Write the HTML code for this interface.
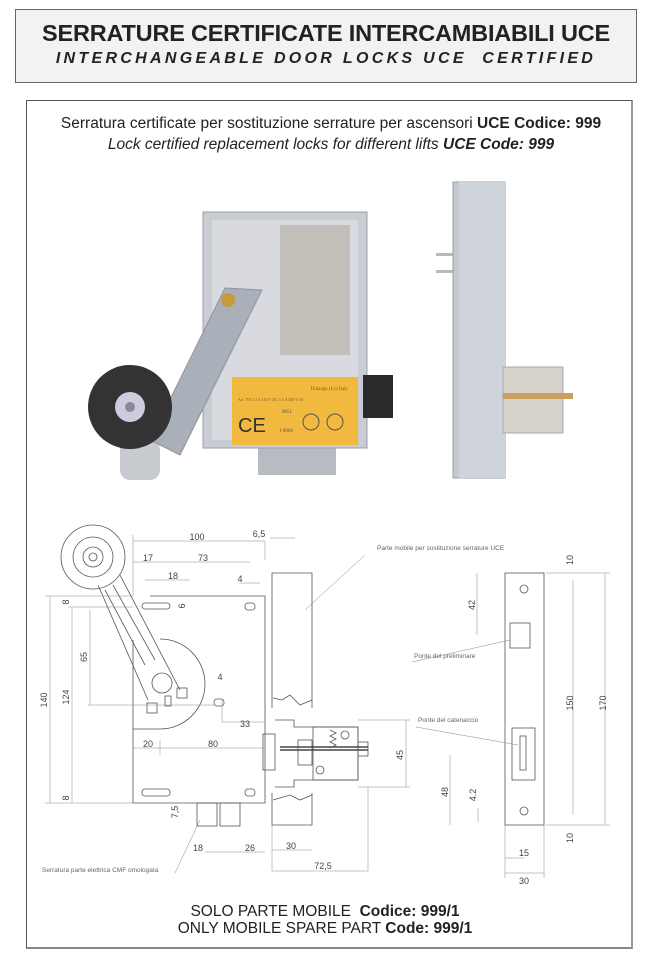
<!DOCTYPE html>
<html><head><meta charset="utf-8"><style>
html,body{margin:0;padding:0;background:#fff;}
body{width:646px;height:954px;position:relative;overflow:hidden;font-family:"Liberation Sans",Arial,sans-serif;}
.hdr{position:absolute;left:15px;top:9px;width:620px;height:72px;background:#f2f2f2;border:1px solid #666;}
.t1{position:absolute;left:0;right:0;top:10px;text-align:center;font-weight:bold;font-size:23.5px;color:#222;letter-spacing:-0.2px;}
.t2{position:absolute;left:0;right:0;top:40px;text-align:center;font-weight:bold;font-style:italic;font-size:16px;color:#222;letter-spacing:3.3px;}
.box{position:absolute;left:26px;top:100px;width:604px;height:846px;border:1px solid #555;border-right:2px solid #999;border-bottom:2px solid #888;}
.s{position:absolute;left:0;width:646px;text-align:center;font-size:15.5px;color:#222;}
.b{font-size:15.5px;}
svg{position:absolute;left:0;top:0;}
</style></head><body>
<div class="hdr"><div class="t1">SERRATURE CERTIFICATE INTERCAMBIABILI UCE</div><div class="t2">INTERCHANGEABLE DOOR LOCKS UCE&nbsp; CERTIFIED</div></div>
<div class="box"></div>
<div class="s" style="top:115px;left:8px">Serratura certificate per sostituzione serrature per ascensori <b>UCE Codice: 999</b></div>
<div class="s" style="top:136px;left:8px"><i>Lock certified replacement locks for different lifts <b>UCE Code: 999</b></i></div>
<div class="s b" style="top:903px;left:2px">SOLO PARTE MOBILE&nbsp; <b>Codice: 999/1</b></div>
<div class="s b" style="top:920px;left:2px">ONLY MOBILE SPARE PART <b>Code: 999/1</b></div>
<svg width="646" height="954" viewBox="0 0 646 954" font-family="Liberation Sans, sans-serif">
<rect x="120" y="440" width="40" height="40" rx="10" fill="#c8cbd0"/>
<rect x="258" y="440" width="78" height="35" fill="#b8bcc2"/>
<rect x="203" y="212" width="164" height="236" fill="#c9ccd2" stroke="#9a9ea6"/>
<rect x="212" y="220" width="146" height="220" fill="#d8dadf"/>
<rect x="280" y="225" width="70" height="130" fill="#b9b3a6" opacity="0.7"/>
<rect x="363" y="375" width="30" height="43" fill="#2a2a2c"/>
<rect x="232" y="377" width="126" height="68" fill="#f1b93e"/>
<text x="348" y="390" font-size="5" fill="#7a5a20" text-anchor="end" font-family="Liberation Serif">Dolzago (Lc) Italy</text>
<text x="238" y="401" font-size="4" fill="#7a5a20" font-family="Liberation Serif">Art. 701 1,5 A 110 V DC 1,5 A 400 V AC</text>
<text x="238" y="432" font-size="20" fill="#333" font-family="Liberation Sans">CE</text>
<text x="282" y="413" font-size="5" fill="#555" font-family="Liberation Serif">0051</text>
<text x="280" y="432" font-size="5" fill="#555" font-family="Liberation Serif">I 0069</text>
<circle cx="311" cy="422" r="8" fill="none" stroke="#555"/><circle cx="335" cy="422" r="8" fill="none" stroke="#555"/>
<polygon points="225,288 262,290 180,455 150,440" fill="#aab0b9" stroke="#8d939c"/>
<circle cx="228" cy="300" r="7" fill="#c89a3a"/>
<circle cx="130" cy="407" r="42" fill="#333"/>
<circle cx="130" cy="407" r="15" fill="#ccd" />
<circle cx="130" cy="407" r="5" fill="#889"/>
<rect x="436" y="253" width="18" height="3" fill="#bba"/><rect x="436" y="270" width="18" height="3" fill="#bba"/>
<rect x="453" y="182" width="52" height="296" fill="#c4c8cf" stroke="#9aa0a8"/>
<rect x="459" y="182" width="46" height="296" fill="#cfd3da"/>
<rect x="503" y="367" width="60" height="66" fill="#d6d3cc" stroke="#aaa"/>
<rect x="503" y="393" width="70" height="6" fill="#c8a060"/>
<g fill="none" stroke="#555" stroke-width="0.8">
<path d="M133,640 L133,803 L265,803 L265,596 L150,596"/>
<path d="M133,729 L160,729 A45,45 0 0 0 160,639"/>
<circle cx="93" cy="557" r="32"/><circle cx="93" cy="557" r="20"/><circle cx="93" cy="557" r="10"/><circle cx="93" cy="557" r="4"/>
<path d="M98,585 L148,700 M120,575 L180,690 M105,590 L145,665 M113,585 L155,660"/>
<circle cx="162" cy="683" r="10"/>
<rect x="147" y="703" width="10" height="10"/><rect x="177" y="688" width="10" height="10"/><rect x="165" y="696" width="6" height="10"/>
<rect x="142" y="603" width="28" height="6" rx="3"/><rect x="245" y="603" width="10" height="7" rx="3"/>
<rect x="142" y="789" width="28" height="7" rx="3"/><rect x="245" y="789" width="10" height="7" rx="3"/>
<rect x="214" y="699" width="10" height="7" rx="3"/>
<rect x="197" y="803" width="20" height="23"/><rect x="220" y="803" width="20" height="23"/>
<path d="M272,708 L272,573 L312,573 L312,708 M272,793 L272,825 L312,825 L312,793"/>
<path d="M273,698 L282,700 L290,695 L300,705 L312,700 M273,800 L290,795 L300,800 L312,795"/>
<rect x="263" y="734" width="12" height="36"/>
<path d="M275,720 L294,720 L294,727 L358,727 L358,780 L294,780 L294,787 L275,787"/>
<rect x="313" y="727" width="45" height="53"/>
<path d="M280,747 L368,747 M280,750 L368,750" stroke="#222" stroke-width="1.2"/>
<rect x="298" y="740" width="14" height="25"/><rect x="358" y="742" width="10" height="14"/>
<circle cx="345" cy="735" r="4"/><circle cx="320" cy="770" r="4"/>
<path d="M330,730 l6,3 l-6,3 l6,3 l-6,3 l6,3 l-6,3"/>
<rect x="505" y="573" width="39" height="252"/>
<circle cx="524" cy="589" r="4"/><circle cx="524" cy="811" r="4"/>
<rect x="510" y="623" width="20" height="25"/>
<rect x="512" y="728" width="23" height="52"/><rect x="520" y="736" width="6" height="34"/>
</g>
<g fill="none" stroke="#888" stroke-width="0.5">
<path d="M50,596 L50,803 M72,607 L72,803 M90,610 L90,705 M45,596 L133,596 M68,607 L133,607 M45,803 L133,803 M88,705 L215,705"/>
<path d="M133,541 L265,541 M133,562 L250,562 M145,580 L190,580 M265,541 L265,560 M133,535 L133,596 M270,538 L295,538 M240,583 L260,583"/>
<path d="M133,748 L265,748 M160,740 L160,755 M222,722 L265,722 M222,700 L222,722"/>
<path d="M205,852 L265,852 M272,850 L312,850 M272,871 L368,871 M368,787 L368,871 M272,825 L272,871"/>
<path d="M406,720 L406,787 M358,720 L410,720 M358,787 L410,787"/>
<path d="M605,573 L605,825 M573,580 L573,815 M477,573 L477,635 M450,755 L450,825 M478,808 L478,822 M546,573 L610,573 M546,825 L610,825 M505,873 L544,873 M505,858 L524,858 M505,825 L505,878 M544,825 L544,878"/>
<path d="M365,555 L305,610 M412,662 L510,640 M416,727 L518,745 M175,873 L200,820"/>
</g>
<g font-size="9" fill="#444" text-anchor="middle">
<text x="197" y="540">100</text><text x="259" y="537">6,5</text><text x="148" y="561">17</text><text x="203" y="561">73</text>
<text x="173" y="579">18</text><text x="240" y="582">4</text><text x="220" y="680">4</text><text x="245" y="727">33</text>
<text x="148" y="747">20</text><text x="213" y="747">80</text><text x="198" y="851">18</text><text x="250" y="851">26</text>
<text x="291" y="849">30</text><text x="323" y="869">72,5</text><text x="524" y="856">15</text><text x="524" y="884">30</text>
<text transform="translate(47,700) rotate(-90)">140</text><text transform="translate(69,697) rotate(-90)">124</text>
<text transform="translate(87,657) rotate(-90)">65</text><text transform="translate(69,602) rotate(-90)">8</text>
<text transform="translate(69,798) rotate(-90)">8</text><text transform="translate(185,606) rotate(-90)">6</text>
<text transform="translate(178,812) rotate(-90)">7,5</text><text transform="translate(403,755) rotate(-90)">45</text>
<text transform="translate(573,560) rotate(-90)">10</text><text transform="translate(573,838) rotate(-90)">10</text>
<text transform="translate(573,703) rotate(-90)">150</text><text transform="translate(606,703) rotate(-90)">170</text>
<text transform="translate(475,605) rotate(-90)">42</text><text transform="translate(448,792) rotate(-90)">48</text>
<text transform="translate(476,795) rotate(-90)">4.2</text>
</g>
<g font-size="6.5" fill="#666">
<text x="377" y="550">Parte mobile per sostituzione serrature UCE</text>
<text x="414" y="658">Ponte del preliminare</text>
<text x="418" y="722">Ponte del catenaccio</text>
<text x="42" y="872">Serratura parte elettrica CMF omologata</text>
</g>
</svg>
</body></html>
